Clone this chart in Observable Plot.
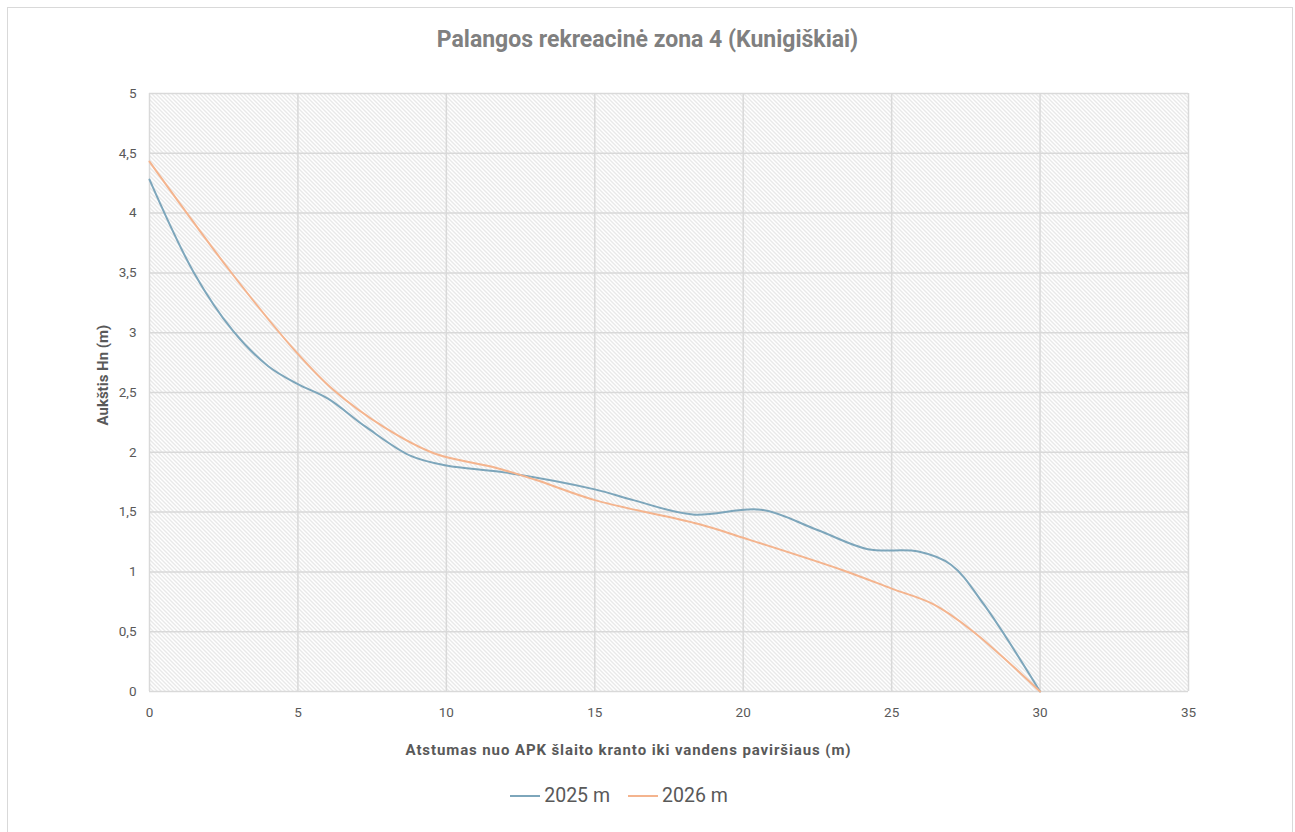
<!DOCTYPE html>
<html>
<head>
<meta charset="utf-8">
<script src="https://cdn.jsdelivr.net/npm/d3@7"></script>
<script src="https://cdn.jsdelivr.net/npm/@observablehq/plot@0.6"></script>
<style>
  html, body { margin: 0; padding: 0; background: #fff; }
  #wrap { position: relative; width: 1295px; height: 832px; overflow: hidden; font-family: Roboto, "Noto Sans", sans-serif; }
  #border { position: absolute; left: 7px; top: 7px; width: 1284px; height: 840px; border: 1px solid #d9d9d9; pointer-events: none; }
  #title { height: 70px; box-sizing: border-box; padding-top: 26px; line-height: 28px; font-size: 23px; font-weight: 700; color: #808080; text-align: center; }
  #xlabel { height: 56px; box-sizing: border-box; padding-top: 19px; padding-right: 38px; line-height: 18px; font-size: 15px; letter-spacing: 0.9px; font-weight: 700; color: #595959; text-align: center; }
  #legend { height: 40px; box-sizing: border-box; padding-top: 6px; padding-right: 57px; line-height: 24px; font-size: 19.5px; color: #595959; text-align: center; }
  .sw { display: inline-block; width: 30px; height: 0; border-top: 2px solid; vertical-align: middle; margin-right: 4px; position: relative; top: -1px; }
  .item { display: inline-block; margin: 0 9px; }
</style>
</head>
<body>
<div id="wrap">
  <div id="border"></div>
  <div id="title"></div>
  <div id="chart"></div>
  <div id="xlabel"></div>
  <div id="legend"></div>
</div>
<script>
const titleText = "Palangos rekreacinė zona 4 (Kunigiškiai)";
const xLabelText = "Atstumas nuo APK šlaito kranto iki vandens paviršiaus (m)";
const yLabelText = "Aukštis Hn (m)";
const seriesNames = ["2025 m", "2026 m"];
const seriesColors = ["#7da6bb", "#f4b48e"];

const xTicks = [0, 5, 10, 15, 20, 25, 30, 35];
const yTicks = [0, 0.5, 1, 1.5, 2, 2.5, 3, 3.5, 4, 4.5, 5];

const x2025 = [0, 1.5, 2.8, 4, 5, 6, 7.3, 8.8, 10, 12, 15, 16.3, 18.3, 20.6, 22.5, 24.2, 25.9, 27, 28.1, 30];
const y2025 = [4.28, 3.5, 3.02, 2.72, 2.57, 2.45, 2.21, 1.97, 1.89, 1.83, 1.69, 1.6, 1.48, 1.52, 1.35, 1.19, 1.17, 1.06, 0.73, 0];

const x2026 = [0, 2.7, 4.9, 6.2, 7.9, 9.6, 11.6, 13, 15, 18.5, 20, 23.4, 25, 26.4, 27.7, 30];
const y2026 = [4.43, 3.52, 2.85, 2.52, 2.21, 1.99, 1.875, 1.77, 1.6, 1.4, 1.285, 1.01, 0.86, 0.73, 0.51, 0];

const d2025 = x2025.map((x, i) => ({x, y: y2025[i]}));
const d2026 = x2026.map((x, i) => ({x, y: y2026[i]}));

const fmt = d => String(d).replace(".", ",");

document.getElementById("title").textContent = titleText;
document.getElementById("xlabel").textContent = xLabelText;
document.getElementById("legend").innerHTML = seriesNames.map((n, i) =>
  `<span class="item"><span class="sw" style="border-color:${seriesColors[i]}"></span>${n}</span>`).join("");

const svg = Plot.plot({
  width: 1295,
  height: 652,
  marginTop: 23,
  marginBottom: 31,
  marginLeft: 149,
  marginRight: 107,
  style: {fontFamily: "Roboto, 'Noto Sans', sans-serif", fontSize: "13.5px", color: "#595959", background: "transparent", overflow: "visible"},
  x: {domain: [0, 35]},
  y: {domain: [0, 5]},
  marks: [
    Plot.frame({fill: "url(#hatch)", stroke: null}),
    Plot.gridX(xTicks, {stroke: "#d9d9d9", strokeOpacity: 1, strokeWidth: 1.5}),
    Plot.gridY(yTicks, {stroke: "#d9d9d9", strokeOpacity: 1, strokeWidth: 1.5}),
    Plot.axisX({ticks: xTicks, tickSize: 0, tickPadding: 16, tickFormat: fmt, label: null, fill: "#595959"}),
    Plot.axisY({ticks: yTicks, tickSize: 0, tickPadding: 13, tickFormat: fmt, label: null, fill: "#595959"}),
    Plot.line(d2025, {x: "x", y: "y", curve: "catmull-rom", stroke: seriesColors[0], strokeWidth: 2}),
    Plot.line(d2026, {x: "x", y: "y", curve: "catmull-rom", stroke: seriesColors[1], strokeWidth: 2}),
    Plot.text([yLabelText], {text: d => d, frameAnchor: "left", dx: -46, dy: 33, rotate: -90, fontSize: 15, fontWeight: 700, fill: "#595959"})
  ]
});

d3.select(svg).insert("defs", ":first-child").html(
  `<pattern id="hatch" patternUnits="userSpaceOnUse" width="4" height="4">
     <rect width="4" height="4" fill="#ffffff"></rect>
     <path d="M-1,-1 L5,5 M-1,3 L1,5 M3,-1 L5,1" stroke="#d2d2d2" stroke-width="1"></path>
   </pattern>`);

document.getElementById("chart").appendChild(svg);
</script>
</body>
</html>
